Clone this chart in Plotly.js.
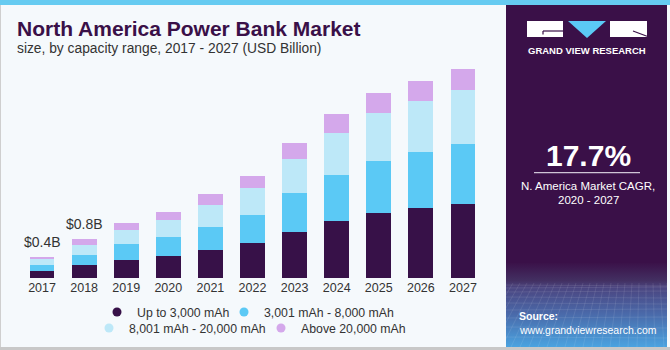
<!DOCTYPE html>
<html>
<head>
<meta charset="utf-8">
<script src="https://cdn.plot.ly/plotly-3.0.1.min.js"></script>
<style>html,body{margin:0;padding:0;background:#f5f9fc;}#chart{width:670px;height:350px;}</style>
</head>
<body>
<div id="chart"></div>
<script>
// ---- data ----
const years = ['2017','2018','2019','2020','2021','2022','2023','2024','2025','2026','2027'];
const upTo3000 = [0.14, 0.254, 0.36, 0.44, 0.56, 0.70, 0.92, 1.14, 1.30, 1.392, 1.486];
const from3001to8000 = [0.114, 0.206, 0.314, 0.374, 0.466, 0.566, 0.774, 0.912, 1.046, 1.12, 1.186];
const from8001to20000 = [0.12, 0.20, 0.28, 0.346, 0.434, 0.54, 0.686, 0.854, 0.96, 1.02, 1.08];
const above20000 = [0.052, 0.114, 0.152, 0.16, 0.22, 0.24, 0.326, 0.366, 0.394, 0.408, 0.42];
const seriesNames = ['Up to 3,000 mAh', '3,001 mAh - 8,000 mAh', '8,001 mAh - 20,000 mAh', 'Above 20,000 mAh'];
const labelYears = ['2017', '2018'];
const labelTexts = ['&#36;0.4B', '&#36;0.8B'];
const cagrText = '17.7%';

// ---- layout helpers ----
const W = 670, H = 350;
const mL = 21, mR = 186, mT = 60, mB = 72;
const pw = W - mL - mR, ph = H - mT - mB;
const X = p => (p - mL) / pw;
const Y = p => (H - mB - p) / ph;
const FONT = 'Liberation Sans, Arial, sans-serif';
const colors = ['#371148', '#5bc9f5', '#bde8f8', '#d4a8eb'];
const seriesData = [upTo3000, from3001to8000, from8001to20000, above20000];

const traces = seriesData.map((vals, i) => ({
  type: 'bar', x: years, y: vals, name: seriesNames[i],
  marker: {color: colors[i]}, showlegend: false, hoverinfo: 'x+y+name'
}));
// legend entries (circle symbols)
const legendIds = ['legend', 'legend2', 'legend3', 'legend4'];
seriesNames.forEach((n, i) => {
  traces.push({type: 'scatter', mode: 'markers', x: [null], y: [null], name: n,
    marker: {color: colors[i], size: 9, symbol: 'circle'}, legend: legendIds[i], showlegend: true});
});

const totals = years.map((_, i) => seriesData.reduce((s, arr) => s + arr[i], 0));

const txt = (text, x, y, size, color, opts) => Object.assign({
  text, x: X(x), y: Y(y), xref: 'paper', yref: 'paper', showarrow: false,
  font: {family: FONT, size, color}, xanchor: 'left', yanchor: 'middle'
}, opts || {});

const annotations = [
  txt('<b>North America Power Bank Market</b>', 15, 28, 21, '#3a1048'),
  txt('size, by capacity range, 2017 - 2027 (USD Billion)', 15, 49, 13.8, '#333333'),
  txt('<b>GRAND VIEW RESEARCH</b>', 587, 51, 9.5, '#ffffff', {xanchor: 'center'}),
  txt('<b>' + cagrText + '</b>', 588, 155.5, 30, '#ffffff', {xanchor: 'center'}),
  txt('N. America Market CAGR,', 588, 186, 11.5, '#ffffff', {xanchor: 'center'}),
  txt('2020 - 2027', 588, 200, 11.5, '#ffffff', {xanchor: 'center'}),
  txt('<b>Source:</b>', 517, 316, 10.5, '#ffffff'),
  txt('www.grandviewresearch.com', 517, 329.5, 10.5, '#ffffff')
];
labelYears.forEach((yr, k) => {
  const idx = years.indexOf(yr);
  annotations.push({text: labelTexts[k], x: idx, y: totals[idx], xref: 'x', yref: 'y',
    showarrow: false, xanchor: 'center', yanchor: 'middle', yshift: 15,
    font: {family: FONT, size: 14, color: '#333333'}});
});

const rect = (x0, y0, x1, y1, color, extra) => Object.assign({type: 'rect', xref: 'paper', yref: 'paper',
  x0: X(x0), x1: X(x1), y0: Y(y0), y1: Y(y1), fillcolor: color, line: {width: 0}, layer: 'above'}, extra || {});
const line = (x0, y0, x1, y1, color, w) => ({type: 'line', xref: 'paper', yref: 'paper',
  x0: X(x0), x1: X(x1), y0: Y(y0), y1: Y(y1), line: {color, width: w}, layer: 'above'});

const shapes = [
  rect(0, 0, 670, 5, '#66cbf1'),
  rect(506, 5, 667, 263, '#3a1048'),
  // logo
  rect(527, 21, 563, 37, '#ffffff'),
  line(543, 31, 563, 31, '#3a1048', 1.2),
  line(543, 31, 543, 34.5, '#3a1048', 1.2),
  {type: 'path', xref: 'paper', yref: 'paper', layer: 'above', line: {width: 0}, fillcolor: '#5bc9f5',
    path: `M ${X(568)} ${Y(21)} L ${X(606)} ${Y(21)} L ${X(587)} ${Y(38)} Z`},
  rect(610, 21, 647, 37, '#ffffff'),
  line(633, 31, 647, 36.2, '#3a1048', 1.2),
  // divider under CAGR
  line(534, 172.7, 640, 172.7, '#cfc4d6', 1.2),
  // borders
  line(0.5, 5, 0.5, 348, '#cfcfcf', 1),
  rect(0, 347, 670, 350, '#c8c8c8')
];

// gradient + grid image for source area
let grid = '';
for (const yy of [23, 26, 30, 35, 41, 48, 56, 65, 75]) grid += `<line x1="0" y1="${yy}" x2="161" y2="${yy + (yy % 2 ? 1 : -1)}"/>`;
for (let k = -6; k <= 24; k++) grid += `<line x1="${k * 7}" y1="21" x2="${k * 9 - 40}" y2="85"/>`;
const svg = `<svg xmlns="http://www.w3.org/2000/svg" width="161" height="85" viewBox="0 0 161 85" preserveAspectRatio="none">
<defs><linearGradient id="g" x1="0" y1="0" x2="0" y2="1">
<stop offset="0" stop-color="#3a1048"/><stop offset="0.22" stop-color="#433062"/>
<stop offset="0.3" stop-color="#4b4580"/><stop offset="0.6" stop-color="#4a68a8"/>
<stop offset="1" stop-color="#4aa3e0"/></linearGradient></defs>
<rect width="161" height="85" fill="url(#g)"/>
<g stroke="#ffffff" stroke-opacity="0.16" stroke-width="0.6" fill="none">${grid}</g></svg>`;
const images = [{source: 'data:image/svg+xml;charset=utf-8,' + encodeURIComponent(svg),
  xref: 'paper', yref: 'paper', x: X(506), y: Y(262), sizex: (667 - 506) / pw, sizey: (347 - 262) / ph,
  xanchor: 'left', yanchor: 'top', sizing: 'stretch', layer: 'above'}];

const legendRow1 = 312, legendRow2 = 328;
const legendX = [121, 248, 113, 285];
const legendY = [legendRow1, legendRow1, legendRow2, legendRow2];
const legendBase = {orientation: 'h', xanchor: 'left', yanchor: 'middle', xref: 'container', yref: 'container',
  bgcolor: 'rgba(0,0,0,0)', font: {family: FONT, size: 12.3, color: '#333333'},
  itemclick: false, itemdoubleclick: false};
const layout = {
  width: W, height: H, margin: {l: mL, r: mR, t: mT, b: mB, pad: 0, autoexpand: false},
  paper_bgcolor: '#f5f9fc', plot_bgcolor: '#f5f9fc',
  barmode: 'stack', bargap: 0.41,
  xaxis: {type: 'category', range: [-0.5, 10.5], showgrid: false, zeroline: false, showline: false, ticks: '',
    tickfont: {family: FONT, size: 12.5, color: '#333333'}, fixedrange: true, automargin: false},
  yaxis: {range: [0, ph / 50], visible: false, fixedrange: true},
  annotations, shapes, images, showlegend: true
};
legendIds.forEach((id, i) => {
  layout[id] = Object.assign({}, legendBase, {x: (legendX[i] - 24) / W, y: 1 - legendY[i] / H});
});

Plotly.newPlot('chart', traces, layout, {displayModeBar: false, staticPlot: true});
</script>
</body>
</html>
